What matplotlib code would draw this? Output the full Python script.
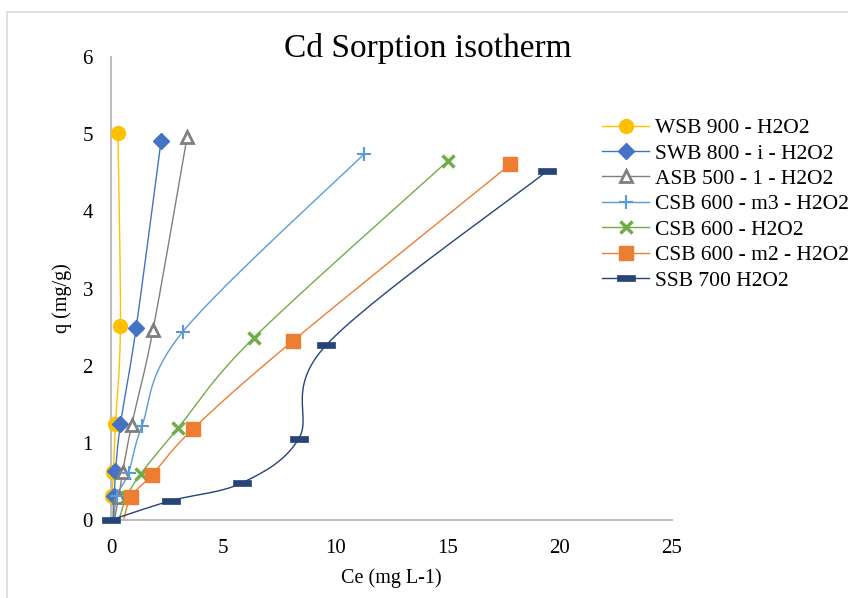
import numpy as np
import matplotlib
matplotlib.use("Agg")
import matplotlib.pyplot as plt
from matplotlib.lines import Line2D
from matplotlib.patches import Rectangle
from matplotlib.path import Path

plt.rcParams['font.family'] = ['Liberation Serif', 'DejaVu Serif']

# Ce (mg/L) and q (mg/g), first point is the zero point (no marker)
labels = ["WSB 900 - H2O2", "SWB 800 - i - H2O2", "ASB 500 - 1 - H2O2",
          "CSB 600 - m3 - H2O2", "CSB 600 - H2O2", "CSB 600 - m2 - H2O2",
          "SSB 700 H2O2"]
ce_wsb = [0.05, 0.05, 0.1, 0.2, 0.42, 0.31]
q_wsb = [0.0, 0.31, 0.62, 1.25, 2.51, 5.01]
ce_swb = [0.1, 0.15, 0.2, 0.42, 1.12, 2.23]
q_swb = [0.0, 0.31, 0.63, 1.24, 2.49, 4.91]
ce_asb = [0.15, 0.35, 0.52, 0.92, 1.87, 3.39]
q_asb = [0.0, 0.30, 0.62, 1.23, 2.46, 4.96]
ce_m3 = [0.15, 0.25, 0.78, 1.38, 3.2, 11.27]
q_m3 = [0.0, 0.31, 0.61, 1.22, 2.44, 4.74]
ce_csb = [0.35, 0.7, 1.33, 2.98, 6.36, 15.0]
q_csb = [0.0, 0.30, 0.60, 1.19, 2.36, 4.65]
ce_m2 = [0.5, 0.89, 1.82, 3.65, 8.1, 17.8]
q_m2 = [-0.08, 0.30, 0.58, 1.18, 2.32, 4.61]
ce_ssb = [0.0, 2.67, 5.83, 8.36, 9.6, 19.43]
q_ssb = [0.0, 0.25, 0.48, 1.05, 2.27, 4.52]

ce_all = [ce_wsb, ce_swb, ce_asb, ce_m3, ce_csb, ce_m2, ce_ssb]
q_all = [q_wsb, q_swb, q_asb, q_m3, q_csb, q_m2, q_ssb]
mark_from = [1, 1, 1, 1, 1, 1, 0]

colors = ['#FFC000', '#4472C4', '#7F7F7F', '#5B9BD5', '#70AD47', '#ED7D31', '#264478']
dash = Path([(-1, -0.28), (1, -0.28), (1, 0.28), (-1, 0.28), (-1, -0.28)])
markers = ['o', 'D', '^', '+', 'x', 's', dash]
msizes = [10, 8, 9, 10, 9, 10, 13]
faces = ['#FFC000', '#4472C4', 'white', '#5B9BD5', '#70AD47', '#ED7D31', '#264478']
mew = [1, 1, 2, 1.5, 2.5, 1, 0.5]


def smooth(x, y, sx=22.44, sy=77.2, n=30):
    # excel style smoothed line: bezier segments with catmull-rom control points
    p = np.column_stack([np.asarray(x) * sx, np.asarray(y) * sy])
    pts = np.vstack([p[0], p, p[-1]])
    out = []
    for i in range(1, len(pts) - 2):
        p0, p1, p2, p3 = pts[i - 1], pts[i], pts[i + 1], pts[i + 2]
        b1 = p1 + (p2 - p0) / 6
        b2 = p2 - (p3 - p1) / 6
        t = np.linspace(0, 1, n)[:, None]
        seg = ((1 - t) ** 3) * p1 + 3 * ((1 - t) ** 2) * t * b1 + 3 * (1 - t) * t ** 2 * b2 + t ** 3 * p2
        out.append(seg)
    out = np.vstack(out)
    return out[:, 0] / sx, out[:, 1] / sy


fig = plt.figure(figsize=(8.48, 5.98), dpi=100)
ax = fig.add_axes([111 / 848, 1 - 520 / 598, 561 / 848, 463 / 598])

handles = []
for i in range(len(labels)):
    xs, ys = smooth(ce_all[i], q_all[i])
    ax.plot(xs, ys, color=colors[i], lw=1.0, zorder=2)
    k = mark_from[i]
    ax.plot(ce_all[i][k:], q_all[i][k:], ls='none', marker=markers[i], ms=msizes[i],
            mfc=faces[i], mec=colors[i], mew=mew[i], zorder=3 + i * 0.1, clip_on=False)
    handles.append(Line2D([], [], color=colors[i], lw=1.0, marker=markers[i], ms=msizes[i],
                          mfc=faces[i], mec=colors[i], mew=mew[i]))

ax.set_xlim(0, 25)
ax.set_ylim(0, 6)
ax.set_xticks(range(0, 26, 5))
ax.set_yticks(range(0, 7))
ax.tick_params(length=0, labelsize=15, colors='black')
ax.tick_params(axis='x', pad=14)
ax.tick_params(axis='y', pad=13)
for s in ['top', 'right']:
    ax.spines[s].set_visible(False)
for s in ['left', 'bottom']:
    ax.spines[s].set_color('#BFBFBF')
    ax.spines[s].set_linewidth(1.5)

fig.text(428 / 848, 1 - 48 / 598, "Cd Sorption isotherm", fontsize=24, ha='center', va='center')
fig.text(391 / 848, 1 - 578 / 598, "Ce (mg L-1)", fontsize=14.5, ha='center', va='center')
fig.text(62 / 848, 1 - 298 / 598, "q (mg/g)", fontsize=14.5, ha='center', va='center', rotation=90)

fig.legend(handles, labels, loc='upper left', bbox_to_anchor=(602 / 848, 1 - 118 / 598),
           frameon=False, fontsize=15.5, handlelength=2.2, handletextpad=0.25,
           labelspacing=0.25, borderpad=0, borderaxespad=0)

fig.add_artist(Rectangle((7 / 848, -0.1), 1.2, 1.1 - 12 / 598, transform=fig.transFigure,
                         fill=False, ec='#D9D9D9', lw=1.2))

fig.savefig('out.png', dpi=100)
